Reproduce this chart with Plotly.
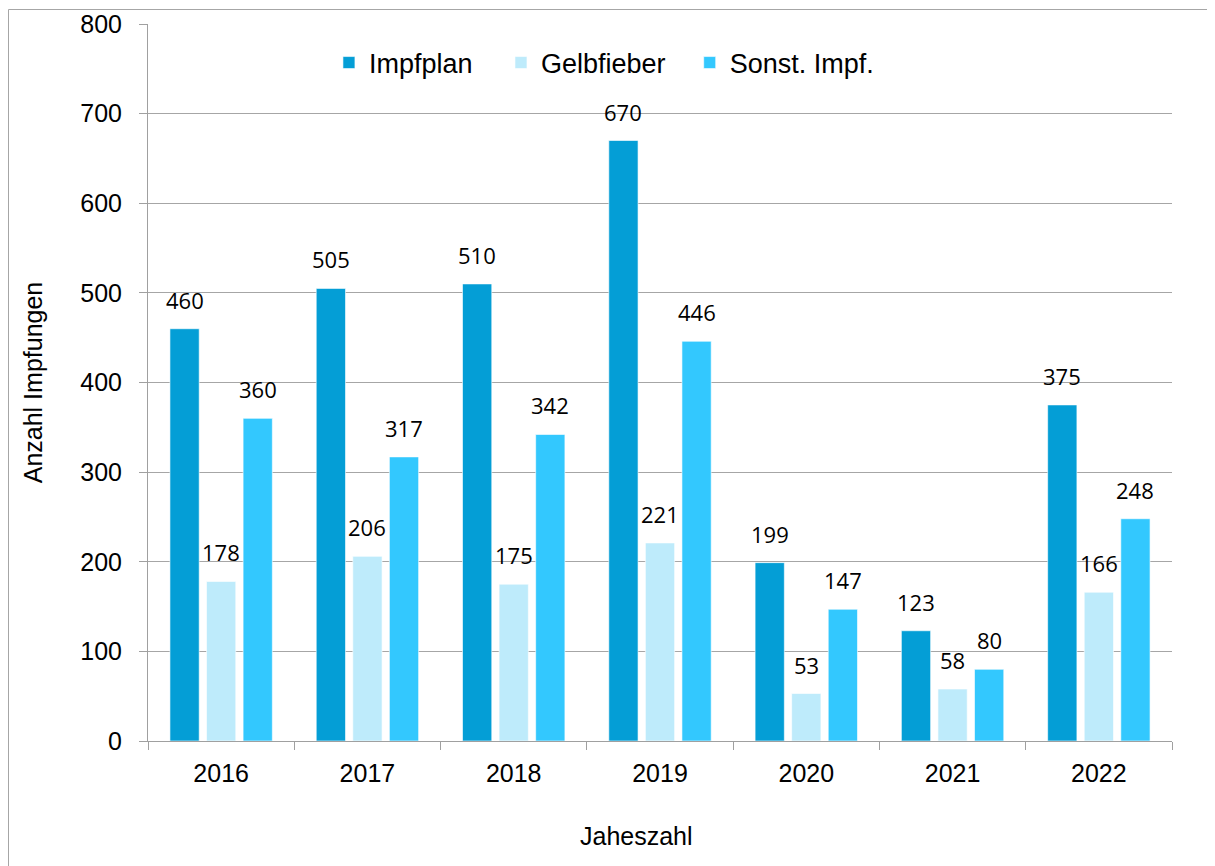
import plotly.graph_objects as go

years = ["2016", "2017", "2018", "2019", "2020", "2021", "2022"]
impfplan = [460, 505, 510, 670, 199, 123, 375]
gelbfieber = [178, 206, 175, 221, 53, 58, 166]
sonst = [360, 317, 342, 446, 147, 80, 248]

series = [
    ("Impfplan", impfplan, "#049ED6", "legend"),
    ("Gelbfieber", gelbfieber, "#BEEBFB", "legend2"),
    ("Sonst. Impf.", sonst, "#33C8FE", "legend3"),
]

# figure sits at (8,8) in the page because of the default body margin
W, H = 1207, 858
L, R, T, B = 140, 43, 16, 125
pw, ph = W - L - R, H - T - B

BARGAP, GROUPGAP = 0.25, 0.2
slot = pw / len(years) * (1 - BARGAP) / len(series)

fig = go.Figure()
annotations = []
for i, (name, vals, col, lg) in enumerate(series):
    fig.add_trace(go.Bar(
        x=years, y=vals, name=name, legend=lg, showlegend=True,
        marker=dict(color=col, line=dict(color="rgba(255,255,255,0.6)", width=1)),
        hovertemplate="%{x}: %{y}<extra>" + name + "</extra>",
    ))
    for j, v in enumerate(vals):
        # category index j on the category axis
        annotations.append(dict(
            x=j, y=v, xref="x", yref="y", text=str(v), showarrow=False,
            xanchor="center", yanchor="bottom",
            xshift=(i - 1) * slot, yshift=12,
            font=dict(family="Open Sans", size=22, color="black"),
        ))

# x-axis title (placed like in the original, slightly left of centre)
annotations.append(dict(
    x=0.4775, y=-0.1325, xref="paper", yref="paper", text="Jaheszahl",
    showarrow=False, xanchor="center", yanchor="middle",
    font=dict(family="Liberation Sans", size=25, color="black"),
))

legend_common = dict(orientation="h", yanchor="middle", y=0.9456, xanchor="left",
                     bgcolor="rgba(0,0,0,0)",
                     font=dict(family="Liberation Sans", size=27, color="black"))
fig.update_layout(
    width=W, height=H,
    margin=dict(l=L, r=R, t=T, b=B, autoexpand=False),
    paper_bgcolor="white", plot_bgcolor="white",
    barmode="group", bargap=BARGAP, bargroupgap=GROUPGAP,
    showlegend=True,
    legend=dict(x=0.1767, **legend_common),
    legend2=dict(x=0.3447, **legend_common),
    legend3=dict(x=0.529, **legend_common),
    font=dict(family="Liberation Sans", size=24, color="black"),
    annotations=annotations,
    xaxis=dict(
        type="category", categoryorder="array", categoryarray=years,
        range=[-0.5, len(years) - 0.5],
        tickson="boundaries", ticks="outside", ticklen=8,
        tickcolor="#A0A0A0", showline=True, linecolor="#A0A0A0", linewidth=1,
        showgrid=False, tickfont=dict(size=25), ticklabelstandoff=10,
    ),
    yaxis=dict(
        range=[0, 800], dtick=100, ticks="outside", ticklen=8, tickcolor="#A0A0A0",
        showline=True, linecolor="#A0A0A0", linewidth=1,
        showgrid=True, gridcolor="#A6A6A6", gridwidth=1, zeroline=False,
        tickfont=dict(size=25), ticklabelstandoff=12,
        title=dict(text="Anzahl Impfungen", font=dict(size=25), standoff=30),
    ),
)

# outer chart frame
fig.add_shape(type="rect", xref="paper", yref="paper",
              x0=(0.5 - L) / pw, x1=(W + 5 - L) / pw,
              y0=-(H + 5 - T - ph) / ph, y1=(T + ph - 1.5) / ph,
              line=dict(color="#A6A6A6", width=1), fillcolor="rgba(0,0,0,0)",
              layer="below")

fig.write_html("out.html")
